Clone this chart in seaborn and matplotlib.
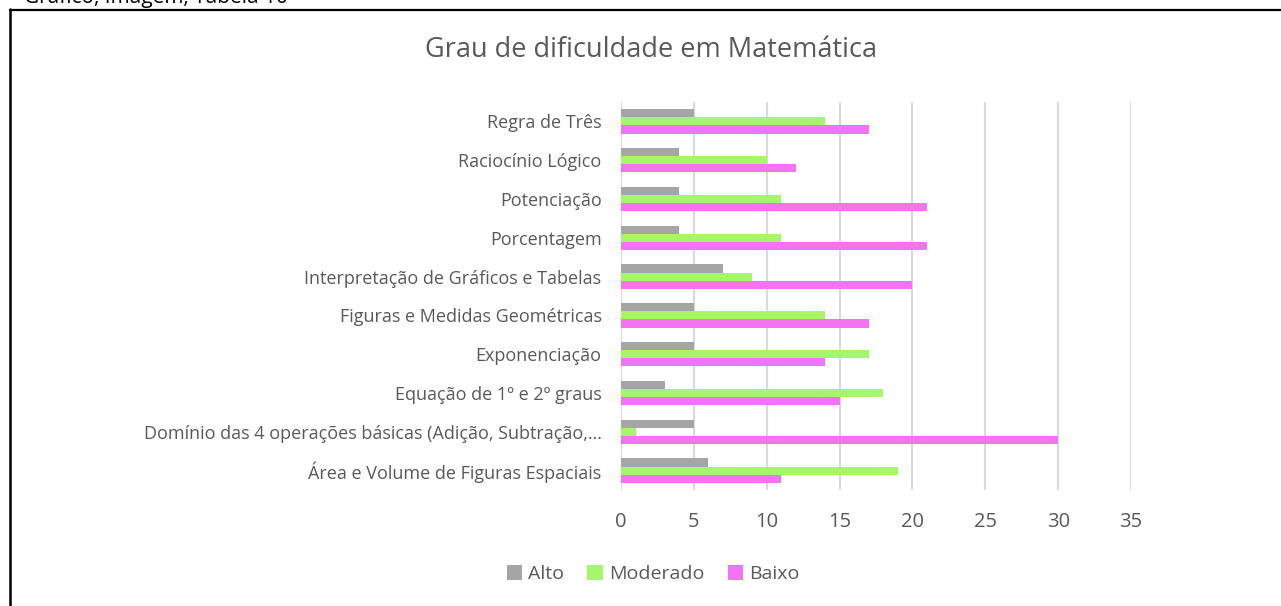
import matplotlib
matplotlib.use("Agg")
import matplotlib.pyplot as plt
import seaborn as sns
import pandas as pd
from matplotlib.lines import Line2D
from matplotlib.patches import Patch

categories = [
    "Regra de Três",
    "Raciocínio Lógico",
    "Potenciação",
    "Porcentagem",
    "Interpretação de Gráficos e Tabelas",
    "Figuras e Medidas Geométricas",
    "Exponenciação",
    "Equação de 1º e 2º graus",
    "Domínio das 4 operações básicas (Adição, Subtração,…",
    "Área e Volume de Figuras Espaciais",
]
alto = [5, 4, 4, 4, 7, 5, 5, 3, 5, 6]
moderado = [14, 10, 11, 11, 9, 14, 17, 18, 1, 19]
baixo = [17, 12, 21, 21, 20, 17, 14, 15, 30, 11]
series = ["Alto", "Moderado", "Baixo"]
colors = ["#A5A5A5", "#A6F66C", "#F274F1"]
xticks = [0, 5, 10, 15, 20, 25, 30, 35]
title = "Grau de dificuldade em Matemática"
header = "Gráfico, Imagem, Tabela 10"

rows = []
for s, vals in zip(series, [alto, moderado, baixo]):
    for c, v in zip(categories, vals):
        rows.append({"cat": c, "serie": s, "val": v})
df = pd.DataFrame(rows)

sns.set_theme(style="white")
plt.rcParams["font.family"] = ["Open Sans", "DejaVu Sans"]
txt = "#595959"

fig = plt.figure(figsize=(12.81, 6.06), dpi=100)
ax = fig.add_axes([621 / 1281, 1 - 490 / 606, 510 / 1281, 388 / 606])

sns.barplot(data=df, y="cat", x="val", hue="serie", order=categories,
            hue_order=series, palette=colors, orient="h", width=0.63,
            gap=0, saturation=1, ax=ax, legend=False, zorder=3,
            linewidth=0, edgecolor="none")

ax.set_xlim(0, 35)
ax.set_ylim(len(categories) - 0.5, -0.5)
ax.set_xticks(xticks)
ax.set_xticklabels([str(t) for t in xticks], fontsize=14.5, color=txt)
ax.set_yticks(range(len(categories)))
ax.set_yticklabels(categories, fontsize=13, color=txt)
ax.tick_params(axis="y", length=0, pad=14)
ax.tick_params(axis="x", length=0, pad=16)
ax.set_xlabel("")
ax.set_ylabel("")
for sp in ax.spines.values():
    sp.set_visible(False)
ax.grid(axis="x", color="#D9D9D9", linewidth=1.5, zorder=0)
ax.set_axisbelow(True)

fig.text(651 / 1281, 1 - 50 / 606, title, ha="center", va="center",
         fontsize=19.5, color=txt)

handles = [Patch(facecolor=c, edgecolor="none") for c in colors]
fig.legend(handles, series, loc="center", bbox_to_anchor=(653 / 1281, 1 - 574 / 606),
           ncol=3, frameon=False, fontsize=14, handlelength=0.8, handleheight=0.8,
           handletextpad=0.3, columnspacing=1.2, labelcolor=txt)

# page border and cut-off header
fig.add_artist(Line2D([9.5 / 1281, 1], [1 - 9.5 / 606, 1 - 9.5 / 606],
                      transform=fig.transFigure, color="black", linewidth=1.6))
fig.add_artist(Line2D([10 / 1281, 10 / 1281], [0, 1 - 9 / 606],
                      transform=fig.transFigure, color="black", linewidth=1.8))
fig.text(24 / 1281, 1 - 3 / 606, header, ha="left", va="baseline",
         fontsize=15, color="black")

fig.savefig("out.png", dpi=100, facecolor="white")
